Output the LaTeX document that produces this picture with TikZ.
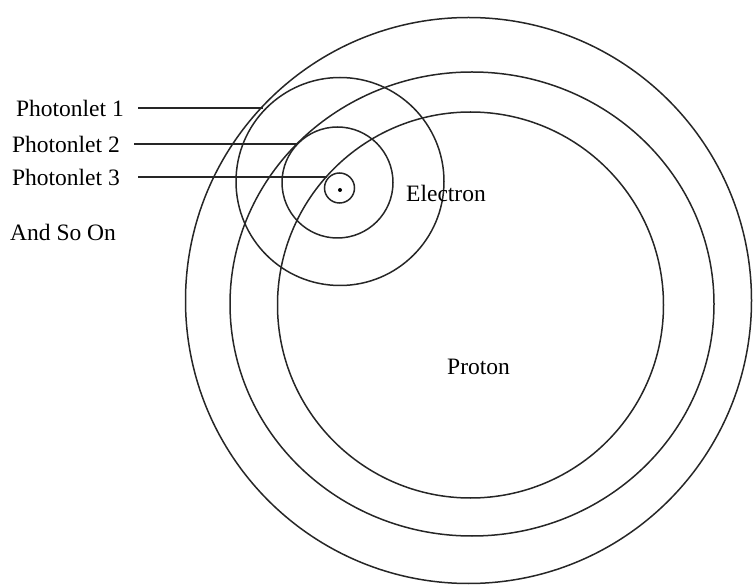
\documentclass[tikz,border=0pt]{standalone}
\usepackage{fontspec}
\setmainfont{Liberation Serif}
\newfontfamily\labelfont{Liberation Serif}
\begin{document}
\begin{tikzpicture}[x=1pt, y=-1pt]
        \tikzstyle{orbit}=[draw=black!85, line width=1.5pt]
        \tikzstyle{txt}=[font=\labelfont\fontsize{23.5}{28}\selectfont, inner sep=0pt]
        \tikzstyle{tag}=[txt, anchor=east, inner xsep=14pt]
        \tikzstyle{leader}=[draw=black!85, line width=1.8pt]

        \useasboundingbox (0,0) rectangle (753,585);

        % proton rings
        \draw[orbit] (468.5,300.5) circle[radius=283];
        \draw[orbit] (472,304) ellipse[x radius=242, y radius=232];
        \draw[orbit] (470.5,305) circle[radius=193];

        % electron rings
        \draw[orbit] (340,181.5) circle[radius=104];
        \draw[orbit] (337.5,182.5) circle[radius=55.5];
        \draw[orbit] (339.5,188) circle[radius=15];
        \fill (340,190) circle[radius=2];

        \node[txt, anchor=base west] (electron) at (406,202) {Electron};
        \node[txt, anchor=base west] (proton) at (447,375) {Proton};

        \node[tag] (pl1) at (138,108) {Photonlet 1};
        \node[tag] (pl2) at (134,144) {Photonlet 2};
        \node[tag] (pl3) at (134,177) {Photonlet 3};
        \node[txt, anchor=base west] (more) at (10,241) {And So On};

        \coordinate (hit1) at (263,108);
        \coordinate (hit2) at (297,144);
        \coordinate (hit3) at (327,177);

        \draw[leader] (pl1.east) -- (hit1);
        \draw[leader] (pl2.east) -- (hit2);
        \draw[leader] ([xshift=4pt]pl3.east) -- (hit3);
    \end{tikzpicture}
\end{document}
